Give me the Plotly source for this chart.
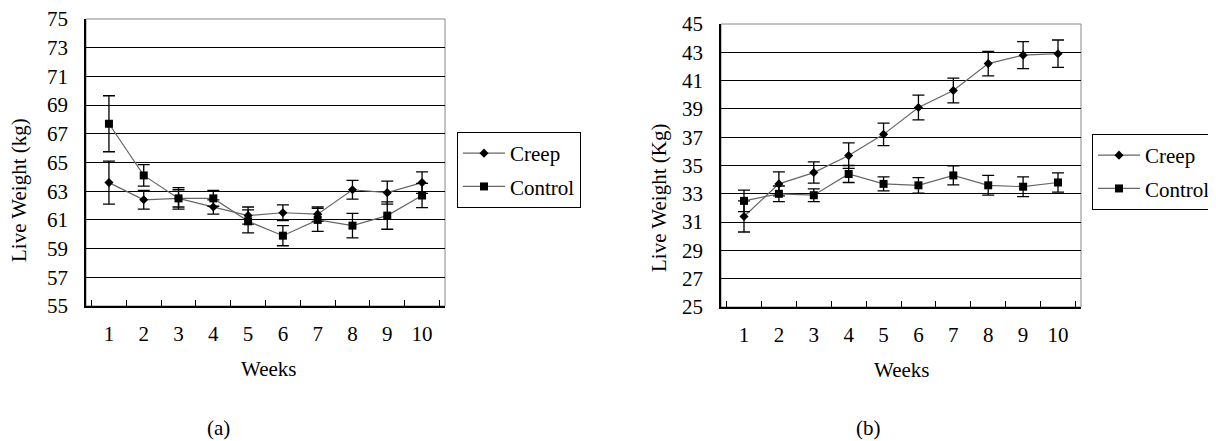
import plotly.graph_objects as go

weeks = ["1", "2", "3", "4", "5", "6", "7", "8", "9", "10"]

a_creep = [63.6, 62.4, 62.5, 61.9, 61.3, 61.5, 61.4, 63.1, 62.9, 63.6]
a_creep_err = [1.5, 0.65, 0.6, 0.5, 0.6, 0.55, 0.5, 0.65, 0.8, 0.75]
a_control = [67.7, 64.1, 62.5, 62.5, 60.9, 59.9, 61.0, 60.6, 61.3, 62.7]
a_control_err = [1.95, 0.75, 0.75, 0.55, 0.8, 0.7, 0.8, 0.85, 0.95, 0.85]

b_creep = [31.4, 33.7, 34.5, 35.7, 37.2, 39.1, 40.3, 42.2, 42.8, 42.9]
b_creep_err = [1.1, 0.85, 0.75, 0.9, 0.8, 0.87, 0.87, 0.87, 0.96, 0.97]
b_control = [32.5, 33.0, 32.9, 34.4, 33.7, 33.6, 34.3, 33.6, 33.5, 33.8]
b_control_err = [0.76, 0.55, 0.45, 0.6, 0.5, 0.55, 0.67, 0.7, 0.7, 0.68]

a_yticks = list(range(55, 76, 2))
b_yticks = list(range(25, 46, 2))

FONT = "Times New Roman, Liberation Serif, serif"
FS = 21
LINE = "#666666"
OFF = 8  # page body margin
W, H = 1216 - OFF, 441 - OFF


def px(x):
    return (x - OFF) / W


def py(y):
    return 1 - (y - OFF) / H


fig = go.Figure()


def add_series(y, err, name, symbol, size, xa, ya, legend):
    fig.add_trace(go.Scatter(
        x=weeks, y=y, name=name, mode="lines+markers",
        line=dict(color=LINE, width=1.2),
        marker=dict(symbol=symbol, size=size, color="black"),
        error_y=dict(type="data", array=err, visible=True, color="black",
                     thickness=1.3, width=6),
        xaxis=xa, yaxis=ya, legend=legend, legendgroup=legend + name,
    ))


add_series(a_creep, a_creep_err, "Creep", "diamond", 7, "x", "y", "legend")
add_series(a_control, a_control_err, "Control", "square", 8, "x", "y", "legend")
add_series(b_creep, b_creep_err, "Creep", "diamond", 7, "x2", "y2", "legend2")
add_series(b_control, b_control_err, "Control", "square", 8, "x2", "y2", "legend2")

tf = dict(family=FONT, size=FS, color="black")
xcommon = dict(type="category", tickson="boundaries", ticks="inside", ticklen=6,
               tickcolor="black", tickwidth=1.3, showline=True, linecolor="black", linewidth=1.5,
               showgrid=False, zeroline=False, ticklabelstandoff=8, automargin=False,
               ticklabeloverflow="allow", tickfont=tf)
ycommon = dict(showline=True, linecolor="black", linewidth=1.5, ticks="",
               showgrid=True, gridcolor="black", gridwidth=1.3, zeroline=False,
               ticklabelstandoff=12, automargin=False, ticklabeloverflow="allow",
               tickfont=tf)

legcommon = dict(xanchor="left", yanchor="top", bordercolor="black", borderwidth=1,
                 bgcolor="white", font=tf, itemwidth=42, traceorder="grouped",
                 tracegroupgap=3)


def ann(text, x, y, angle=0):
    return dict(text=text, x=px(x), y=py(y), xref="paper", yref="paper",
                showarrow=False, textangle=angle, font=tf,
                xanchor="center", yanchor="middle")


fig.update_layout(
    width=W, height=H,
    margin=dict(l=0, r=0, t=0, b=0, autoexpand=False),
    paper_bgcolor="white", plot_bgcolor="white",
    font=tf,
    xaxis=dict(domain=[px(86), px(445)], anchor="y", **xcommon),
    yaxis=dict(domain=[py(306), py(19)], anchor="x", range=[55, 75],
               tickvals=a_yticks, **ycommon),
    xaxis2=dict(domain=[px(721), px(1081)], anchor="y2", **xcommon),
    yaxis2=dict(domain=[py(307), py(24)], anchor="x2", range=[25, 45],
                tickvals=b_yticks, **ycommon),
    legend=dict(x=px(457), y=py(132), **legcommon),
    legend2=dict(x=px(1092), y=py(134), **legcommon),
    showlegend=True,
    shapes=[
        dict(type="rect", xref="x domain", yref="y domain", x0=0, x1=1, y0=0, y1=1,
             line=dict(color="#888888", width=1), layer="below"),
        dict(type="rect", xref="x2 domain", yref="y2 domain", x0=0, x1=1, y0=0, y1=1,
             line=dict(color="#888888", width=1), layer="below"),
    ],
    annotations=[
        ann("Live Weight (kg)", 19, 190, -90),
        ann("Live Weight (Kg)", 659, 198, -90),
        ann("Weeks", 268, 369),
        ann("Weeks", 902, 370),
        ann("(a)", 218, 428),
        ann("(b)", 868, 428),
    ],
)

fig.write_html("out.html")
